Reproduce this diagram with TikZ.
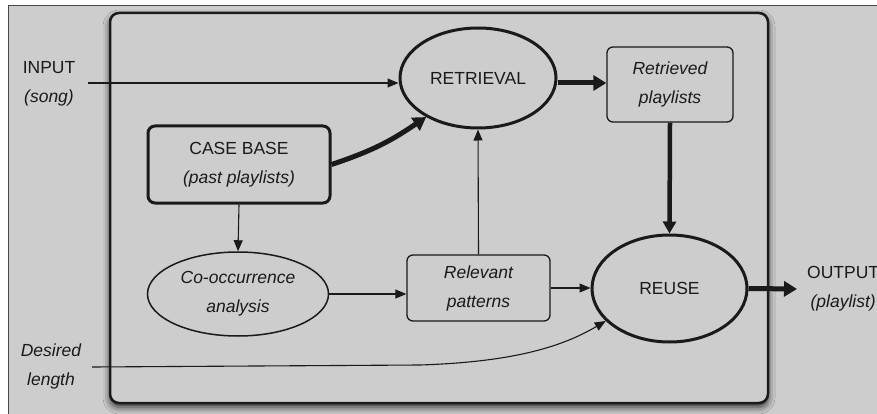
\documentclass[tikz,border=0pt]{standalone}
\usepackage{fontspec}
\setmainfont{Liberation Sans}
\usetikzlibrary{shapes.geometric,arrows.meta,shadows.blur}
\definecolor{bg}{HTML}{CDCDCD}
\definecolor{ink}{HTML}{1A1A1A}
\begin{document}
\begin{tikzpicture}[x=1pt,y=-1pt,
  txt/.style={font=\fontsize{17.5}{29}\selectfont, text=ink, align=center, inner sep=0pt},
  itx/.style={txt, font=\fontsize{17.5}{29}\selectfont\itshape},
  thickell/.style={ellipse, draw=ink, line width=3pt, inner sep=0pt},
  thinell/.style={ellipse, draw=ink, line width=1.5pt, inner sep=0pt},
  thickbox/.style={rectangle, rounded corners=7pt, draw=ink, line width=3pt, inner sep=0pt},
  thinbox/.style={rectangle, rounded corners=6pt, draw=ink, line width=1.3pt, inner sep=0pt},
  thinarr/.style={draw=ink, line width=1.1pt, -{Triangle[length=11pt,width=9pt]}},
  fatarr/.style={draw=ink, line width=5pt, -{Triangle[length=13pt,width=15pt]}},
  midarr/.style={draw=ink, line width=4.5pt, -{Triangle[length=12pt,width=13pt]}}]
\useasboundingbox (0,0) rectangle (877,414);
% outer background
\fill[white] (0,0) rectangle (877,414);
\fill[bg] (8,6) rectangle (877,414);
\draw[ink!80, line width=1pt] (8,414) -- (8,6) -- (877,6);
% inner rounded panel
\draw[fill=bg, rounded corners=9pt, line width=2.5pt, draw=ink,
  blur shadow={shadow xshift=0pt, shadow yshift=-4pt, shadow blur radius=7pt, shadow opacity=80, shadow scale=1.0}]
  (110,13) rectangle (768,403);
% nodes
\node[thickell, minimum width=156pt, minimum height=100pt] (ret) at (478,78) {};
\node[txt] at (ret.center) {RETRIEVAL};
\node[thinbox, minimum width=126pt, minimum height=75pt] (rp) at (670,84.5) {};
\node[itx] at (rp.center) {Retrieved\\playlists};
\node[thickbox, minimum width=182pt, minimum height=77pt] (cb) at (239,164.5) {};
\node[txt] at (cb.center) {CASE BASE\\\itshape (past playlists)};
\node[thinell, minimum width=181pt, minimum height=84pt] (co) at (238,294) {};
\node[itx] at (co.center) {Co-occurrence\\analysis};
\node[thinbox, minimum width=143pt, minimum height=66pt] (rel) at (478.5,288) {};
\node[itx] at (rel.center) {Relevant\\patterns};
\node[thickell, minimum width=155pt, minimum height=107pt] (reu) at (669.5,288.5) {};
\node[txt] at (reu.center) {REUSE};
\node[txt] (in) at (49,84) {INPUT\\\itshape (song)};
\node[txt, anchor=west] (out) at (807,289) {OUTPUT\\\itshape (playlist)};
\node[itx] (dl) at (51,366) {Desired\\length};
\coordinate (inS) at (88,83);
\coordinate (dlS) at (92,367);
\coordinate (outE) at (797,289);
% connectors
\draw[thinarr] (inS) -- (ret.west |- inS);
\draw[fatarr] (ret.east |- 0,83) -- (rp.west |- 0,83);
\draw[fatarr] (cb.east) .. controls (375,150) and (392,140) .. (ret.217);
\draw[midarr] (rp.south) -- (reu.north);
\draw[thinarr] (cb.south) -- (co.north);
\draw[thinarr] (co.east) -- (rel.west |- co.east);
\draw[thinarr] (rel.north) -- (ret.south);
\draw[thinarr] (rel.east) -- (reu.west |- rel.east);
\draw[thinarr] (dlS) -- (420,365) .. controls (510,362) and (560,348) .. (reu.207);
\draw[fatarr] (reu.east) -- (outE);
\end{tikzpicture}
\end{document}
